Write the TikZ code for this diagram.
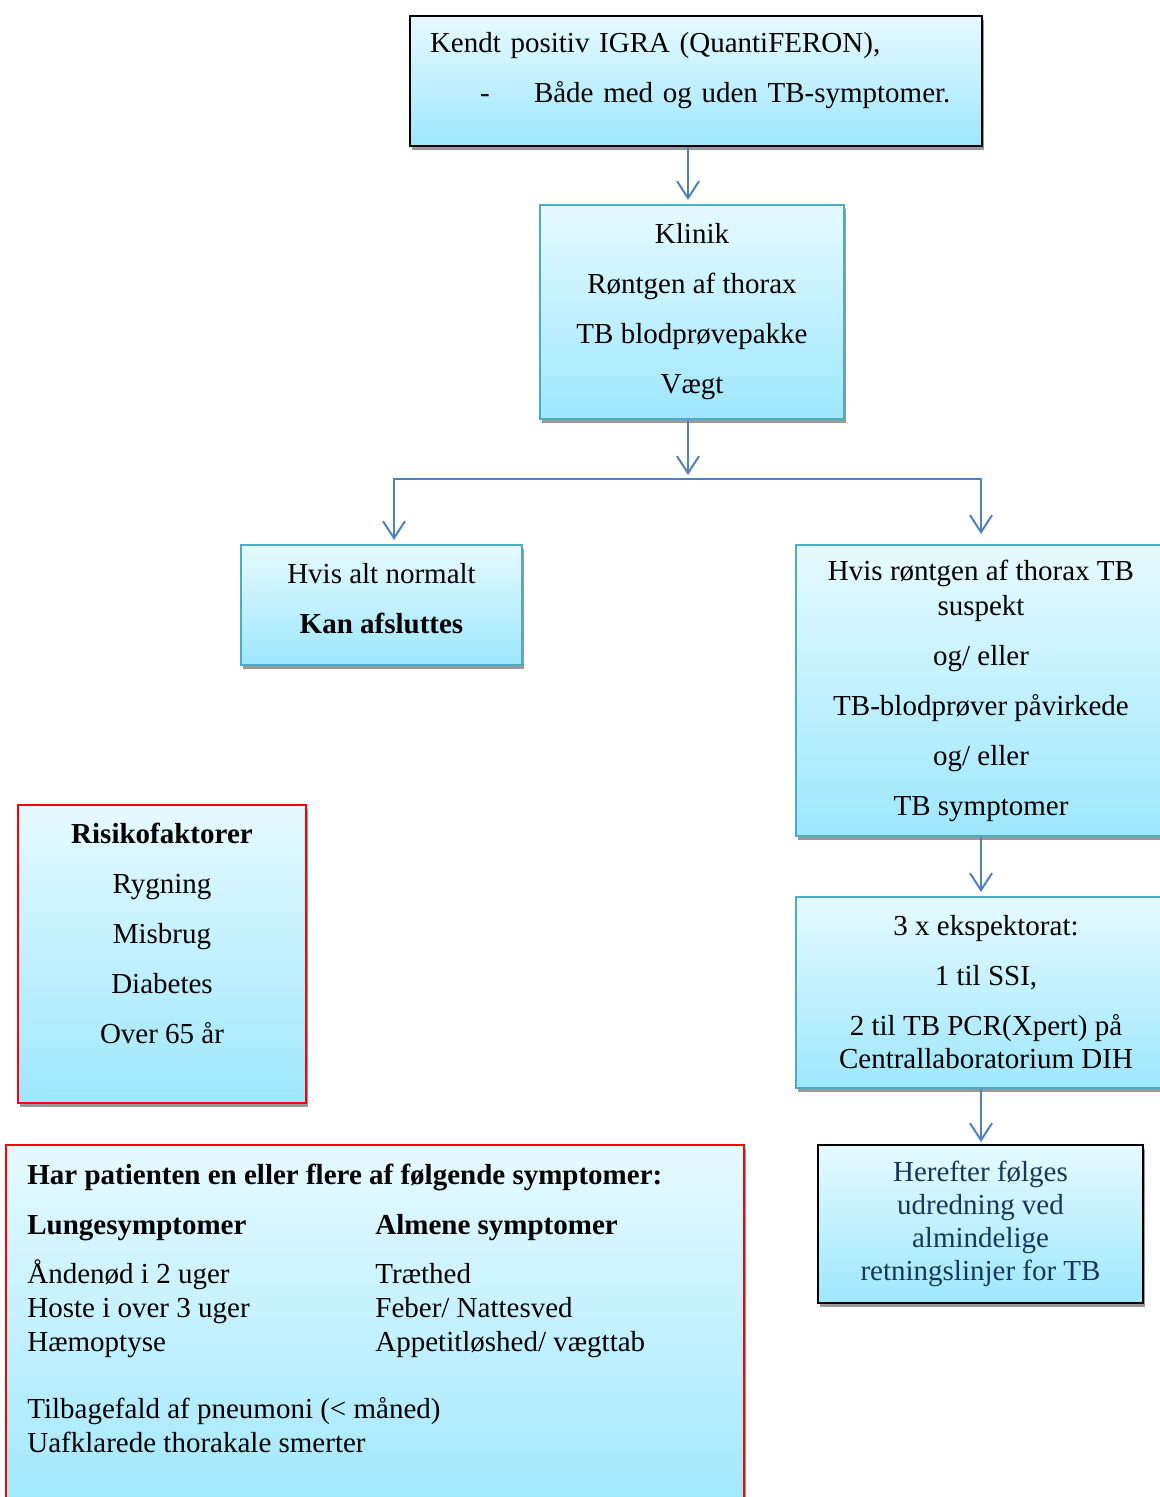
\documentclass[tikz,border=0pt]{standalone}
\usepackage{fontspec}
\setmainfont{Liberation Serif}
\usetikzlibrary{arrows.meta,shadows}
\definecolor{boxtop}{RGB}{230,250,255}
\definecolor{boxbot}{RGB}{158,231,253}
\definecolor{accblue}{RGB}{75,172,198}
\definecolor{arrblue}{RGB}{79,129,189}
\definecolor{navy}{RGB}{23,54,93}

\begin{document}
\begin{tikzpicture}[x=0.5pt,y=-0.5pt,font=\fontsize{14.5}{25}\selectfont,
box/.style n args={3}{draw=#1,line width=1pt,top color=boxtop,bottom color=boxbot,minimum width=#2,minimum height=#3,rectangle,align=center,inner sep=0pt,drop shadow={shadow xshift=0.8pt,shadow yshift=-2pt,fill=black!40,opacity=1}},
arr/.style={arrblue,line width=1pt,-{Straight Barb[length=8.5pt,width=11pt]},shorten >=2pt}]
\useasboundingbox (0,0) rectangle (1160,1497);

% flow boxes
\node[box={black}{286pt}{65pt},line width=1.2pt,align=left,text width=266pt] (igra) at (696,81)
   {Kendt positiv IGRA (QuantiFERON),\\ \hspace*{25pt}\makebox[27pt][l]{-}Både med og uden TB-symptomer.\\[-11pt]\mbox{}};
\node[box={accblue}{152pt}{107pt}] (klinik) at (692,312)
   {Klinik\\Røntgen af thorax\\TB blodprøvepakke\\Vægt};
\node[box={accblue}{140.5pt}{60pt}] (normal) at (381.5,605)
   {Hvis alt normalt\\\textbf{Kan afsluttes}\\[-18pt]\mbox{}};
\node[box={accblue}{185pt}{145.5pt}] (suspekt) at (981,690.5)
   {Hvis røntgen af thorax TB\\[-7.5pt]suspekt\\og/ eller\\TB-blodprøver påvirkede\\og/ eller\\TB symptomer};
\node[box={accblue}{190pt}{95.5pt}] (ekspek) at (986,992.5)
   {3 x ekspektorat:\\1 til SSI,\\2 til TB PCR(Xpert) på\\[-8.5pt]Centrallaboratorium DIH};
\node[box={black}{162.5pt}{79pt},text=navy,font=\fontsize{14.5}{16.5}\selectfont] (herefter) at (980.5,1224)
   {Herefter følges\\udredning ved\\almindelige\\retningslinjer for TB};

% side boxes
\node[box={red}{144pt}{149pt}] (risk) at (162,954)
   {\textbf{Risikofaktorer}\\Rygning\\Misbrug\\Diabetes\\Over 65 år\\[-4pt]\mbox{}};
\node[box={red}{369pt}{190pt}] (sympt) at (375,1335) {};
\node[anchor=north west,inner sep=0pt,font=\fontsize{14.5}{17}\selectfont] (symtxt) at (27,1160)
   {\begin{tabular}{@{}p{174pt}@{}l@{}}
   \multicolumn{2}{@{}l@{}}{\textbf{Har patienten en eller flere af følgende symptomer:}}\\[8pt]
   \textbf{Lungesymptomer} & \textbf{Almene symptomer}\\[7.5pt]
   Åndenød i 2 uger & Træthed\\
   Hoste i over 3 uger & Feber/ Nattesved\\
   Hæmoptyse & Appetitløshed/ vægttab\\[16.5pt]
   \multicolumn{2}{@{}l@{}}{Tilbagefald af pneumoni (< måned)}\\
   \multicolumn{2}{@{}l@{}}{Uafklarede thorakale smerter}
   \end{tabular}};

% connectors
\coordinate (split) at (688,479);
\coordinate (lft) at (394,479);
\coordinate (rgt) at (981,479);
\draw[arr] (igra.south -| split) -- (klinik.north -| split);
\draw[arr] (klinik.south -| split) -- (split);
\draw[arr] (split) -- (lft) -- (lft |- normal.north);
\draw[arr,shorten >=5pt] (split) -- (rgt) -- (rgt |- suspekt.north);
\draw[arr] (suspekt.south -| rgt) -- (ekspek.north -| rgt);
\draw[arr,shorten >=1pt] (ekspek.south -| rgt) -- (herefter.north -| rgt);
\end{tikzpicture}
\end{document}
